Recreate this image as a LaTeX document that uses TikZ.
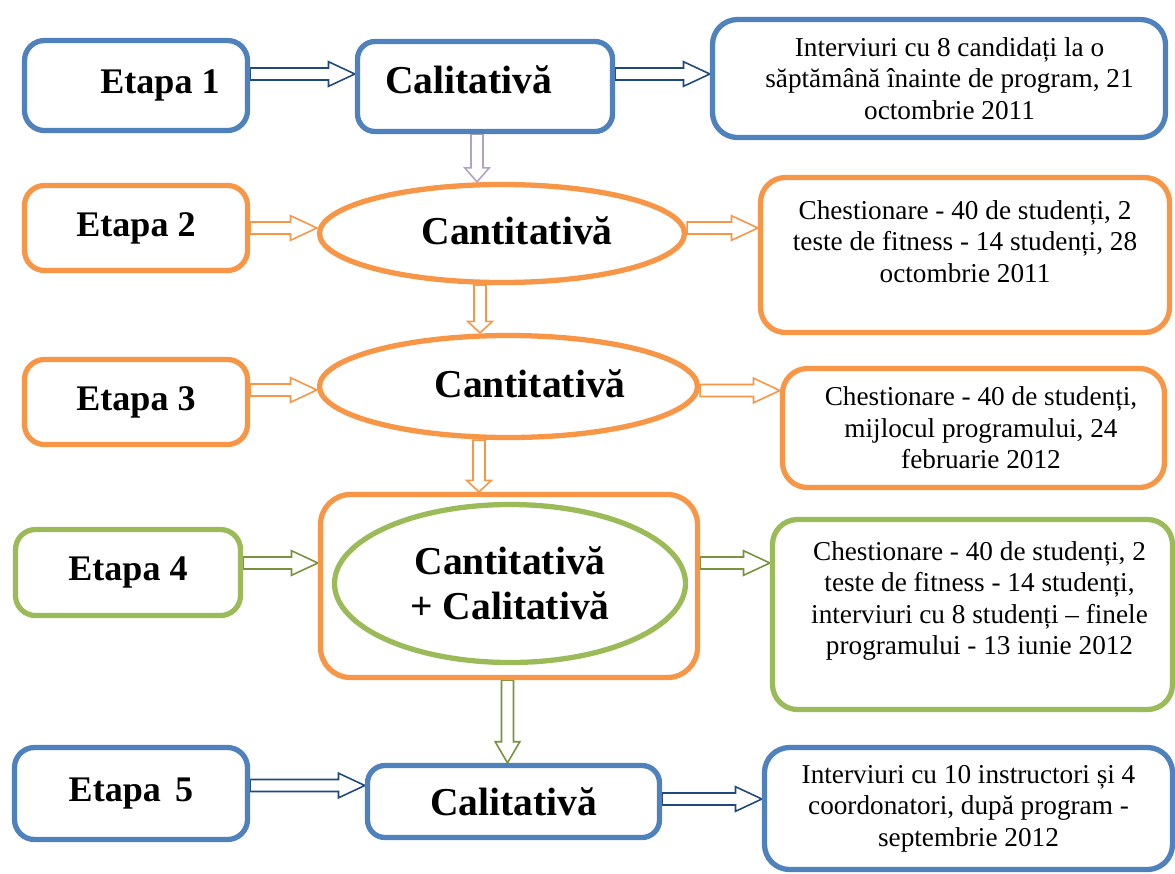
\documentclass[tikz,border=0pt]{standalone}
\usepackage{fontspec}
\setmainfont{Liberation Serif}
\usetikzlibrary{shapes.geometric,calc,backgrounds}

\definecolor{boxblue}{HTML}{4F81BD}
\definecolor{boxorange}{HTML}{F79646}
\definecolor{boxgreen}{HTML}{9BBB59}
\definecolor{arrnavy}{HTML}{1F497D}
\definecolor{arrlilac}{HTML}{B3A2C7}
\definecolor{arrgreen}{HTML}{77933C}

\tikzset{
  stage/.style={draw=#1, line width=3pt, rounded corners=0.4cm, fill=white,
    font=\fontsize{20.5}{24}\selectfont\bfseries},
  method/.style={draw=#1, line width=3pt, rounded corners=0.35cm, fill=white,
    font=\fontsize{22.5}{25.5}\selectfont\bfseries},
  oval/.style={draw=#1, line width=3pt, ellipse, fill=white, inner sep=0pt,
    align=center, font=\fontsize{22.5}{25.5}\selectfont\bfseries},
  detail/.style={draw=#1, line width=3pt, rounded corners=0.5cm, fill=white},
  stagetext/.style={font=\fontsize{20.5}{24}\selectfont\bfseries},
  bigtext/.style={font=\fontsize{22.5}{25.5}\selectfont\bfseries},
  smalltext/.style={align=center, font=\fontsize{15.5}{18}\selectfont},
  arrowbody/.style={fill=white, line width=0.9pt, line join=miter}
}

% hollow block arrows: colour, shift, from, to
\newcommand{\harrow}[4]{%
  \draw[#1, arrowbody] let \p1=(#3), \p2=(#4) in
    (\x1,{\y1+(#2)+3.4pt}) -- ({\x2-15pt},{\y1+(#2)+3.4pt}) -- ({\x2-15pt},{\y1+(#2)+7pt})
    -- (\x2,{\y1+(#2)}) -- ({\x2-15pt},{\y1+(#2)-7pt}) -- ({\x2-15pt},{\y1+(#2)-3.4pt})
    -- (\x1,{\y1+(#2)-3.4pt}) -- cycle;}
\newcommand{\varrow}[5]{%
  \draw[#1, arrowbody] let \p1=(#4), \p2=(#5) in
    ({\x1+(#2)-3.4pt},\y1) -- ({\x1+(#2)-3.4pt},{\y2+(#3)}) -- ({\x1+(#2)-7pt},{\y2+(#3)})
    -- ({\x1+(#2)},\y2) -- ({\x1+(#2)+7pt},{\y2+(#3)}) -- ({\x1+(#2)+3.4pt},{\y2+(#3)})
    -- ({\x1+(#2)+3.4pt},\y1) -- cycle;}

\begin{document}
\begin{tikzpicture}
    \useasboundingbox (0,0) rectangle (23.5,-17.46);

    %stages
    \node[stage=boxblue, minimum width=4.46cm, minimum height=1.80cm] (e1) at (2.72,-1.71) {};
    \node[stagetext, xshift=0.48cm] (e1t) at (e1) {Etapa 1};
    \node[stage=boxorange, minimum width=4.46cm, minimum height=1.70cm] (e2) at (2.72,-4.56) {Etapa 2};
    \node[stage=boxorange, minimum width=4.46cm, minimum height=1.70cm] (e3) at (2.72,-8.04) {Etapa 3};
    \node[stage=boxgreen, minimum width=4.50cm, minimum height=1.72cm] (e4) at (2.56,-11.45) {Etapa 4};
    \node[stage=boxblue, minimum width=4.66cm, minimum height=1.84cm] (e5) at (2.62,-15.87) {Etapa\hspace{0.4em}5};

    %methods
    \node[method=boxblue, minimum width=5.10cm, minimum height=1.80cm] (c1) at (9.70,-1.73) {};
    \node[bigtext, xshift=-0.33cm, yshift=0.13cm] (c1t) at (c1) {Calitativă};
    \node[oval=boxorange, minimum width=7.30cm, minimum height=1.96cm] (o2) at (10.04,-4.67) {};
    \node[bigtext, xshift=0.30cm, yshift=0.06cm] (o2t) at (o2) {Cantitativă};
    \node[oval=boxorange, minimum width=7.56cm, minimum height=2.04cm] (o3) at (10.17,-7.73) {};
    \node[bigtext, xshift=0.43cm, yshift=0.06cm] (o3t) at (o3) {Cantitativă};
    \node[method=boxorange, rounded corners=0.6cm, minimum width=7.54cm, minimum height=3.66cm] (m4) at (10.18,-11.72) {};
    \node[oval=boxgreen, minimum width=7.02cm, minimum height=3.16cm] (o4) at (10.20,-11.67) {Cantitativă\\+ Calitativă};
    \node[method=boxblue, minimum width=5.84cm, minimum height=1.44cm] (c5) at (10.27,-16.03) {Calitativă};

    %details
    \node[detail=boxblue, minimum width=9.06cm, minimum height=2.36cm] (d1) at (18.78,-1.57) {};
    \node[smalltext, xshift=0.21cm] (d1t) at (d1) {Interviuri cu 8 candidați la o\\săptămână înainte de program, 21\\octombrie 2011};
    \node[detail=boxorange, minimum width=8.18cm, minimum height=3.10cm] (d2) at (19.30,-5.10) {};
    \node[smalltext, yshift=0.27cm] (d2t) at (d2) {Chestionare - 40 de studenți, 2\\teste de fitness - 14 studenți, 28\\octombrie 2011};
    \node[detail=boxorange, minimum width=7.64cm, minimum height=2.38cm] (d3) at (19.47,-8.56) {};
    \node[smalltext, xshift=0.15cm] (d3t) at (d3) {Chestionare - 40 de studenți,\\mijlocul programului, 24\\februarie 2012};
    \node[detail=boxgreen, minimum width=8.00cm, minimum height=3.80cm] (d4) at (19.45,-12.29) {};
    \node[smalltext, xshift=0.14cm, yshift=0.27cm] (d4t) at (d4) {Chestionare - 40 de studenți, 2\\teste de fitness - 14 studenți,\\interviuri cu 8 studenți – finele\\programului - 13 iunie 2012};
    \node[detail=boxblue, minimum width=8.16cm, minimum height=2.44cm] (d5) at (19.37,-16.17) {};
    \node[smalltext] (d5t) at (d5) {Interviuri cu 10 instructori și 4\\coordonatori, după program -\\septembrie 2012};

    %arrows behind the boxes
    \begin{pgfonlayer}{background}
        \harrow{arrnavy}{0.23cm}{e1.east}{c1.west}
        \harrow{arrnavy}{0.25cm}{c1.east}{d1.west}
        \varrow{arrlilac}{-0.16cm}{8pt}{c1.south}{o2.north}
        \harrow{boxorange}{0cm}{e2.east}{o2.west}
        \harrow{boxorange}{0.11cm}{o2.east}{d2.west}
        \varrow{boxorange}{-0.44cm}{6.5pt}{o2.south}{o3.north}
        \harrow{boxorange}{0.24cm}{e3.east}{o3.west}
        \harrow{boxorange}{-0.08cm}{o3.east}{d3.west}
        \varrow{boxorange}{-0.59cm}{6.5pt}{o3.south}{m4.north}
        \harrow{arrgreen}{0.19cm}{e4.east}{m4.west}
        \harrow{arrgreen}{0.46cm}{m4.east}{d4.west}
        \varrow{arrgreen}{-0.03cm}{12pt}{m4.south}{c5.north}
        \harrow{arrnavy}{0.16cm}{e5.east}{c5.west}
        \harrow{arrnavy}{0.05cm}{c5.east}{d5.west}
    \end{pgfonlayer}
\end{tikzpicture}
\end{document}
